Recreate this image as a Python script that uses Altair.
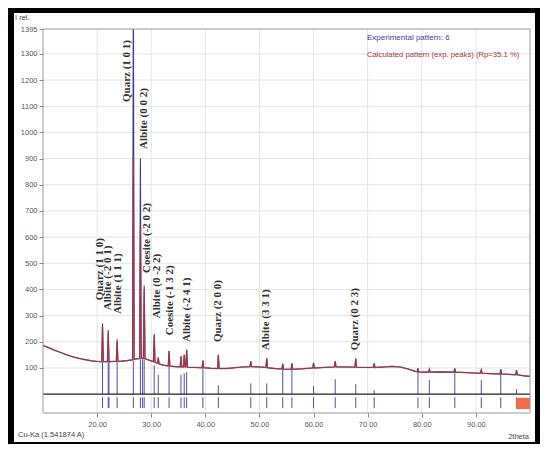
import altair as alt
import pandas as pd

# ---------------- data ----------------
two_theta = [10.0, 11.0, 12.0, 13.0, 14.0, 15.0, 16.0, 17.0, 18.0, 19.0, 20.0,
             20.85, 21.0, 21.15, 21.5,
             21.9, 22.05, 22.2, 23.0,
             23.55, 23.7, 23.85, 24.5, 25.5, 26.2,
             26.55, 26.7, 26.85, 27.3,
             27.85, 28.0, 28.15,
             28.55, 28.7, 28.85, 29.3, 30.0,
             30.4, 30.55, 30.7,
             31.15, 31.3, 31.45, 32.2,
             33.15, 33.3, 33.45, 34.5,
             35.35, 35.5, 35.65,
             35.95, 36.1, 36.25,
             36.4, 36.55, 36.7, 38.0,
             39.4, 39.55, 39.7, 41.0,
             42.25, 42.4, 42.55, 44.0, 45.5, 47.0,
             48.25, 48.4, 48.55, 50.0,
             51.2, 51.35, 51.5, 52.8,
             54.15, 54.3, 54.45, 55.0,
             55.85, 56.0, 56.15, 58.0,
             59.85, 60.0, 60.15, 62.0,
             63.85, 64.0, 64.15, 66.0,
             67.65, 67.8, 67.95, 69.5,
             71.05, 71.2, 71.35, 73.0, 74.5, 76.0, 77.5, 78.8,
             79.15, 79.3, 79.45, 80.5,
             81.25, 81.4, 81.55, 83.5,
             85.95, 86.1, 86.25, 88.5,
             90.85, 91.0, 91.15, 93.0,
             94.45, 94.6, 94.75, 96.5,
             97.35, 97.5, 97.65, 99.0, 100.0]

exp_int = [186, 178, 169, 161, 153, 146, 140, 135, 131, 127, 125,
           124, 270, 124, 124,
           124, 245, 124, 125,
           125, 210, 125, 126, 128, 130,
           131, 1600, 133, 135,
           136, 900, 137,
           137, 415, 136, 132, 127,
           124, 230, 122,
           118, 140, 116, 111,
           108, 165, 107, 105,
           104, 145, 104,
           104, 150, 104,
           104, 170, 103, 102,
           101, 128, 101, 99,
           98, 150, 98, 98, 101, 104,
           105, 125, 105, 104,
           102, 137, 101, 98,
           96, 116, 96, 95,
           95, 118, 95, 97,
           100, 120, 100, 102,
           104, 126, 104, 104,
           103, 136, 103, 102,
           102, 118, 102, 104, 106, 104, 96, 87,
           86, 98, 85, 84,
           84, 95, 84, 85,
           84, 98, 84, 82,
           80, 92, 80, 78,
           77, 95, 77, 75,
           74, 92, 74, 70, 68]

# calculated pattern apex heights where they differ from the experiment
calc_apex = {21.0: 258, 22.05: 232, 23.7: 200, 26.7: 905, 28.0: 630,
             28.7: 400, 30.55: 222}
calc_int = [calc_apex.get(t, v) for t, v in zip(two_theta, exp_int)]

# reference stick pattern
stick_pos = [21.0, 22.05, 22.2, 23.7, 26.7, 28.0, 28.4, 28.7, 30.55, 31.3,
             33.3, 35.5, 36.1, 36.55, 39.55, 42.4, 48.4, 51.35, 54.3, 56.0,
             60.0, 64.0, 67.8, 71.2, 79.3, 81.4, 86.1, 91.0, 94.6, 97.5]
stick_h = [122, 122, 122, 123, 128, 133, 134, 133, 110, 73,
           104, 74, 80, 84, 98, 34, 41, 41, 96, 95,
           31, 57, 38, 15, 86, 54, 84, 54, 77, 19]

peak_labels = ["Quarz (1 1 0)", "Albite (-2 0 1)", "Albite (1 1 1)",
               "Quarz (1 0 1)", "Albite (0 0 2)", "Coesite (-2 0 2)",
               "Albite (0 -2 2)", "Coesite (-1 3 2)", "Albite (-2 4 1)",
               "Quarz (2 0 0)", "Albite (3 3 1)", "Quarz (0 2 3)"]
label_x = [20.54, 22.1, 23.86, 25.53, 28.58, 29.22, 31.16, 33.38, 36.62,
           42.35, 51.2, 67.58]
label_y = [359, 321, 306, 1116, 937, 463, 290, 225, 199, 199, 168, 168]

x_ticks = [20, 30, 40, 50, 60, 70, 80, 90]
y_ticks = [100, 200, 300, 400, 500, 600, 700, 800, 900, 1000, 1100, 1200,
           1300, 1395]
y_grid = [100, 200, 300, 400, 500, 600, 700, 800, 900, 1000, 1100, 1200, 1300]

X_DOM = [10, 100]
Y_DOM = [-72, 1395]

# ---------------- chart ----------------
SANS = "Liberation Sans, Arial, sans-serif"

xs = alt.Scale(domain=X_DOM, nice=False, zero=False)
ys = alt.Scale(domain=Y_DOM, nice=False, zero=False)
xa = alt.Axis(values=x_ticks, format=".2f", grid=False, domain=False, title=None,
              labelFont=SANS, labelFontSize=7.5, labelColor="#555555",
              labelOverlap=False, tickColor="#888888", tickSize=4,
              labelPadding=3, zindex=1)
ya = alt.Axis(values=y_ticks, format="d", grid=False, domain=False, title=None,
              labelFont=SANS, labelFontSize=7.5, labelColor="#555555",
              labelOverlap=False, labelBound=False, tickColor="#888888",
              tickSize=4, labelPadding=2, zindex=1)

one = pd.DataFrame({"a": [0]})
prof = pd.DataFrame({"t": two_theta, "exp": exp_int, "calc": calc_int})
sticks = pd.DataFrame({"t": stick_pos, "h": stick_h})
labs = pd.DataFrame({"label": peak_labels, "lx": label_x, "ly": label_y})
xg = pd.DataFrame({"t": x_ticks})
yg = pd.DataFrame({"v": y_grid})

panel = alt.Chart(one).mark_rect(color="white").encode(
    x=alt.value(-29), x2=alt.value(492), y=alt.value(-16), y2=alt.value(413))

vgrid = alt.Chart(xg).mark_rule(color="#e4e4e4", strokeWidth=1).encode(
    x=alt.X("t:Q", scale=xs, axis=xa),
    y=alt.Y(datum=1395, scale=ys, axis=ya), y2=alt.datum(-72))
hgrid = alt.Chart(yg).mark_rule(color="#e4e4e4", strokeWidth=1).encode(
    y=alt.Y("v:Q", scale=ys, axis=ya),
    x=alt.X(datum=10, scale=xs, axis=xa), x2=alt.datum(100))

up_sticks = alt.Chart(sticks).mark_rule(color="#5050a8", strokeWidth=1).encode(
    x=alt.X("t:Q", scale=xs, axis=xa), y=alt.Y("h:Q", scale=ys, axis=ya),
    y2=alt.datum(0))
low_sticks = alt.Chart(sticks).mark_rule(color="#5050a8", strokeWidth=1).encode(
    x=alt.X("t:Q", scale=xs, axis=xa),
    y=alt.Y(datum=-12, scale=ys, axis=ya), y2=alt.datum(-53))

exp_line = alt.Chart(prof).mark_line(color="#3c3a96", strokeWidth=1.1,
                                     clip=True).encode(
    x=alt.X("t:Q", scale=xs, axis=xa), y=alt.Y("exp:Q", scale=ys, axis=ya))
calc_line = alt.Chart(prof).mark_line(color="#a8363a", strokeWidth=1.3,
                                      opacity=0.85, clip=True).encode(
    x=alt.X("t:Q", scale=xs, axis=xa), y=alt.Y("calc:Q", scale=ys, axis=ya))

baseline = alt.Chart(one).mark_rule(color="#222222", strokeWidth=1.4).encode(
    y=alt.Y(datum=0, scale=ys, axis=ya),
    x=alt.X(datum=10, scale=xs, axis=xa), x2=alt.datum(100))

scroll = alt.Chart(one).mark_rect(color="#f36a4c").encode(
    x=alt.X(datum=97.45, scale=xs, axis=xa), x2=alt.datum(100),
    y=alt.Y(datum=-14, scale=ys, axis=ya), y2=alt.datum(-57))

frame = alt.Chart(one).mark_rect(fillOpacity=0, stroke="#9a9a9a", strokeWidth=1).encode(
    x=alt.X(datum=10, scale=xs, axis=xa), x2=alt.datum(100),
    y=alt.Y(datum=-72, scale=ys, axis=ya), y2=alt.datum(1395))

peak_text = alt.Chart(labs).mark_text(angle=270, align="left", baseline="middle",
                                      font="Liberation Serif", fontWeight="bold",
                                      fontSize=11, color="#333333").encode(
    x=alt.X("lx:Q", scale=xs, axis=xa), y=alt.Y("ly:Q", scale=ys, axis=ya),
    text="label:N")


def note(txt, x, y, color="#444444", size=8, align="left"):
    return alt.Chart(one).mark_text(align=align, baseline="middle", font=SANS,
                                    fontSize=size, color=color).encode(
        x=alt.value(x), y=alt.value(y), text=alt.value(txt))


notes = [
    note("I rel.", -28, -11, size=7.5),
    note("Cu-Ka (1.541874 A)", -25, 406, size=7.5),
    note("2theta", 486, 408, size=7.5, align="right"),
    note("Experimental pattern: 6", 324, 9, color="#3d3d9e", size=8),
    note("Calculated pattern (exp. peaks) (Rp=35.1 %)", 324, 26, color="#a33a3a", size=7.7),
]

chart = alt.layer(panel, vgrid, hgrid, up_sticks, low_sticks, exp_line, calc_line,
                  baseline, scroll, frame, peak_text, *notes).properties(
    width=487, height=384, background="black",
    padding={"left": 35, "top": 21, "right": 10, "bottom": 31},
    autosize=alt.AutoSizeParams(type="none"),
).configure_view(stroke=None).configure_axis(labelOverlap=False)

chart.save("out.html", embed_options={"renderer": "svg", "actions": False})
